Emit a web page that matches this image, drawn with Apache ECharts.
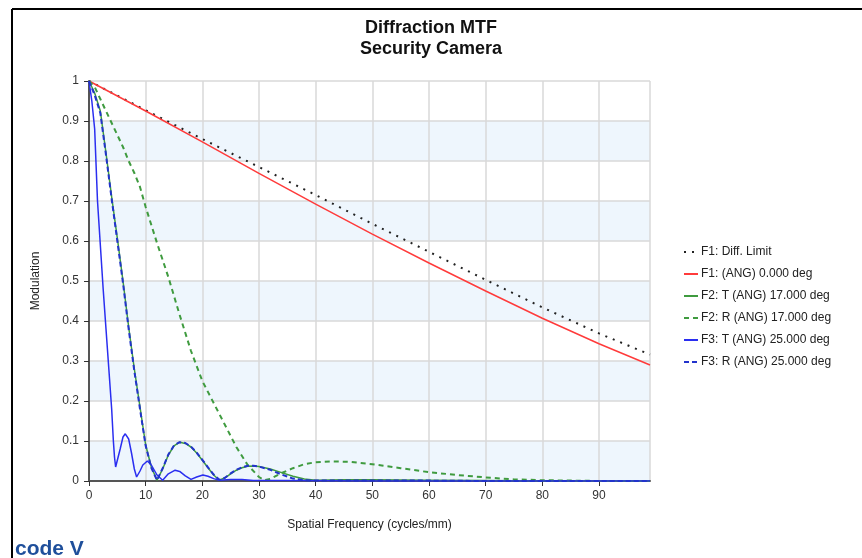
<!DOCTYPE html>
<html>
<head>
<meta charset="utf-8">
<script src="https://cdn.jsdelivr.net/npm/echarts@6/dist/echarts.min.js"></script>
<style>
  html, body { margin: 0; padding: 0; background: #fff; }
  #main { width: 862px; height: 558px; }
</style>
</head>
<body>
<div id="main"></div>
<script>
// values
const diffX = [0, 10, 20, 30, 40, 50, 60, 70, 80, 90, 99]
const diffY = [1, 0.927, 0.855, 0.785, 0.715, 0.643, 0.573, 0.503, 0.434, 0.369, 0.316]

const f1X = [0, 10, 20, 30, 40, 50, 60, 70, 80, 90, 99]
const f1Y = [1, 0.925, 0.848, 0.769, 0.692, 0.617, 0.545, 0.475, 0.407, 0.343, 0.29]

const f2tX = [0, 1, 2, 3, 4, 5, 6, 7, 8, 9, 10, 11, 12, 13, 14, 15, 16, 17, 18, 19, 20, 21, 22, 23, 24, 25, 26, 27, 28, 29, 30, 32, 34, 36, 38, 40, 45, 50, 60, 70, 80, 90, 99]
const f2tY = [1, 0.97, 0.925, 0.82, 0.71, 0.607, 0.5, 0.385, 0.28, 0.185, 0.09, 0.035, 0.002, 0.03, 0.065, 0.088, 0.097, 0.094, 0.085, 0.07, 0.052, 0.033, 0.015, 0.002, 0.008, 0.018, 0.027, 0.033, 0.037, 0.0375, 0.036, 0.03, 0.021, 0.012, 0.005, 0.002, 0.003, 0.003, 0.002, 0.001, 0, 0, 0]

const f2rX = [0, 1, 2, 3, 4, 5, 6, 7, 8, 9, 10, 12, 14, 16, 18, 20, 22, 24, 26, 28, 30, 31, 32, 34, 36, 38, 40, 43, 46, 50, 55, 60, 65, 70, 75, 80, 85, 90, 99]
const f2rY = [1, 0.985, 0.955, 0.925, 0.895, 0.865, 0.835, 0.8, 0.77, 0.735, 0.685, 0.595, 0.51, 0.415, 0.325, 0.25, 0.195, 0.14, 0.085, 0.04, 0.01, 0.002, 0.005, 0.02, 0.032, 0.042, 0.047, 0.049, 0.048, 0.042, 0.032, 0.022, 0.015, 0.009, 0.004, 0.002, 0.001, 0, 0]

const f3tX = [0, 0.5, 1, 1.5, 2, 2.5, 3, 3.5, 4, 4.3, 4.5, 4.7, 5, 5.5, 6, 6.4, 7, 7.5, 8, 8.4, 9, 9.5, 10.3, 11, 12, 13, 14, 15.2, 16, 17, 18, 19, 20.1, 21, 22, 23, 25, 27, 29, 35, 50, 99]
const f3tY = [1, 0.95, 0.88, 0.7, 0.59, 0.48, 0.38, 0.28, 0.18, 0.1, 0.06, 0.035, 0.04, 0.08, 0.11, 0.118, 0.105, 0.07, 0.03, 0.01, 0.025, 0.04, 0.05, 0.04, 0.015, 0.002, 0.018, 0.027, 0.024, 0.013, 0.004, 0.01, 0.015, 0.012, 0.006, 0.002, 0.004, 0.004, 0.001, 0.001, 0, 0]

const f3rX = f2tX
const f3rY = [1, 0.965, 0.92, 0.815, 0.705, 0.6, 0.495, 0.38, 0.275, 0.18, 0.088, 0.033, 0.002, 0.032, 0.066, 0.089, 0.097, 0.095, 0.086, 0.071, 0.053, 0.034, 0.016, 0.003, 0.008, 0.019, 0.028, 0.034, 0.038, 0.038, 0.036, 0.028, 0.016, 0.006, 0.002, 0.001, 0.001, 0.001, 0.001, 0, 0, 0, 0]

const names = ['F1: Diff. Limit', 'F1: (ANG) 0.000 deg', 'F2: T (ANG) 17.000 deg', 'F2: R (ANG) 17.000 deg', 'F3: T (ANG) 25.000 deg', 'F3: R (ANG) 25.000 deg']

function pairs(xs, ys) {
  return xs.map((x, i) => [x, ys[i]])
}

function line(name, xs, ys, color, type, width) {
  return {
    name: name,
    type: 'line',
    symbol: 'none',
    data: pairs(xs, ys),
    lineStyle: { color: color, type: type, width: width },
    itemStyle: { color: color }
  }
}

let myChart = echarts.init(document.getElementById('main'))
let font = 'Liberation Sans, Arial, sans-serif'
let option = {
  animation: false,
  textStyle: { fontFamily: font },
  title: {
    text: 'Diffraction MTF\nSecurity Camera',
    left: 'center',
    top: 13,
    textStyle: { fontSize: 18, fontWeight: 'bold', color: '#111', lineHeight: 21, fontFamily: font }
  },
  legend: {
    orient: 'vertical',
    left: 678,
    top: 241,
    itemGap: 10,
    itemWidth: 14,
    itemHeight: 10,
    itemStyle: { opacity: 0 },
    textStyle: { fontSize: 12, color: '#222', padding: [0, 0, 0, -2] },
    data: names
  },
  grid: { left: 89, right: 212, top: 81, bottom: 77 },
  xAxis: {
    type: 'value',
    min: 0,
    max: 99,
    interval: 10,
    name: 'Spatial Frequency (cycles/mm)',
    nameLocation: 'middle',
    nameGap: 38,
    nameTextStyle: { fontSize: 12, color: '#222' },
    axisLine: { show: true, lineStyle: { color: '#555', width: 2 } },
    axisTick: { show: true, length: 5, lineStyle: { color: '#333' } },
    axisLabel: { fontSize: 12, color: '#333', margin: 9, showMaxLabel: false },
    splitLine: { show: true, lineStyle: { color: '#d9d9d9', width: 1.5 } }
  },
  yAxis: {
    type: 'value',
    min: 0,
    max: 1,
    interval: 0.1,
    name: 'Modulation',
    nameLocation: 'middle',
    nameGap: 47,
    nameTextStyle: { fontSize: 12, color: '#222' },
    axisLine: { show: true, lineStyle: { color: '#555', width: 2 } },
    axisTick: { show: true, length: 5, lineStyle: { color: '#333' } },
    axisLabel: { fontSize: 12, color: '#333', margin: 10 },
    splitLine: { show: true, lineStyle: { color: '#d9d9d9', width: 1.5 } },
    splitArea: { show: true, areaStyle: { color: ['#eef6fd', '#ffffff'] } }
  },
  graphic: [
    { type: 'line', shape: { x1: 12, y1: 9, x2: 12, y2: 558 }, style: { stroke: '#000', lineWidth: 2 } },
    { type: 'line', shape: { x1: 12, y1: 9, x2: 862, y2: 9 }, style: { stroke: '#000', lineWidth: 2 } },
    { type: 'text', left: 15, top: 539, style: { text: 'code V', fontSize: 21, fontWeight: 'bold', fill: '#1f4f9b', fontFamily: font } }
  ],
  series: [
    line(names[0], diffX, diffY, '#222', [2, 6], 2),
    line(names[1], f1X, f1Y, '#ff3b3b', 'solid', 1.5),
    line(names[2], f2tX, f2tY, '#3f9b3f', 'solid', 1.5),
    line(names[3], f2rX, f2rY, '#3f9b3f', [5, 4], 2),
    line(names[4], f3tX, f3tY, '#2a2ef0', 'solid', 1.5),
    line(names[5], f3rX, f3rY, '#2233cc', [5, 3], 2)
  ]
}
myChart.setOption(option)
</script>
</body>
</html>
